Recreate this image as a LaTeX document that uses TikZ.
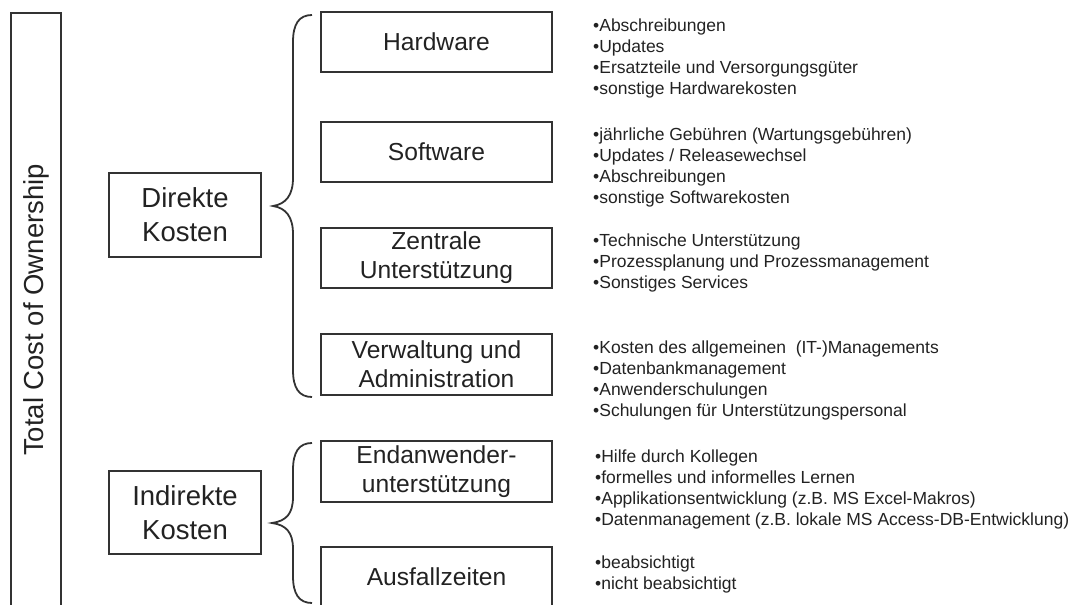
\documentclass[tikz,border=0pt]{standalone}
\usepackage{fontspec}
\setmainfont{Liberation Sans}
\definecolor{ln}{HTML}{333333}
\definecolor{tx}{HTML}{222222}
\tikzset{
  box/.style={draw=ln, line width=1.8pt, text=tx, inner sep=0pt, align=center,
              minimum width=231pt, minimum height=60pt,
              font=\fontsize{24.6}{29}\selectfont},
  bigbox/.style={draw=ln, line width=1.8pt, text=tx, inner sep=0pt, align=center,
              minimum width=152pt, minimum height=84pt,
              font=\fontsize{27.5}{34}\selectfont},
  itemlist/.style={anchor=north west, inner sep=0pt, align=left, text=tx,
              font=\fontsize{17.5}{21}\selectfont},
  bracepath/.style={draw=ln, line width=1.8pt}
}
\begin{document}
\begin{tikzpicture}[x=1pt,y=-1pt]
\useasboundingbox (0,0) rectangle (1077,605);
\clip (0,0) rectangle (1077,605);

% total cost of ownership
\node[draw=ln, line width=1.8pt, text=tx, rotate=90, minimum width=594pt, minimum height=50pt,
      inner sep=0pt, font=\fontsize{27.5}{34}\selectfont] (tco) at (36,310) {Total Cost of Ownership};

% first level
\node[bigbox] (direkt) at (185,215) {Direkte\\Kosten};
\node[bigbox, minimum height=83pt] (indirekt) at (185,512.5) {Indirekte\\Kosten};

% second level
\node[box] (hw) at (436.5,42) {Hardware};
\node[box] (sw) at (436.5,152) {Software};
\node[box] (zu) at (436.5,258) {Zentrale\\Unterstützung};
\node[box, minimum height=61pt] (va) at (436.5,364.5) {Verwaltung und\\Administration};
\node[box, minimum height=61pt] (eu) at (436.5,471.5) {Endanwender-\\unterstützung};
\node[box] (af) at (436.5,577) {Ausfallzeiten};

% braces
\coordinate (b1top) at (312,15);
\coordinate (b1tip) at (273,206);
\coordinate (b1bot) at (312,397);
\draw[bracepath] (b1top) .. controls (299,15) and (293,24) .. (293,42) -- (293,178)
  .. controls (293,195) and (286,204) .. (b1tip)
  .. controls (286,208) and (293,217) .. (293,234) -- (293,370)
  .. controls (293,388) and (299,397) .. (b1bot);

\coordinate (b2top) at (312,443);
\coordinate (b2tip) at (272,523);
\coordinate (b2bot) at (312,603);
\draw[bracepath] (b2top) .. controls (299,443) and (293,452) .. (293,470) -- (293,497)
  .. controls (293,514) and (286,521) .. (b2tip)
  .. controls (286,525) and (293,532) .. (293,549) -- (293,576)
  .. controls (293,594) and (299,603) .. (b2bot);

% item lists
\node[itemlist] (hwl) at (593,16.3) {\strut•Abschreibungen\\•Updates\\•Ersatzteile und Versorgungsgüter\\•sonstige Hardwarekosten};
\node[itemlist] (swl) at (593,125.3) {\strut•jährliche Gebühren (Wartungsgebühren)\\•Updates / Releasewechsel\\•Abschreibungen\\•sonstige Softwarekosten};
\node[itemlist] (zul) at (593,231.3) {\strut•Technische Unterstützung\\•Prozessplanung und Prozessmanagement\\•Sonstiges Services};
\node[itemlist] (val) at (593,338.3) {\strut•Kosten des allgemeinen\ \ (IT-)Managements\\•Datenbankmanagement\\•Anwenderschulungen\\•Schulungen für Unterstützungspersonal};
\node[itemlist] (eul) at (595,447.3) {\strut•Hilfe durch Kollegen\\•formelles und informelles Lernen\\•Applikationsentwicklung (z.B. MS Excel-Makros)\\•Datenmanagement (z.B. lokale MS Access-DB-Entwicklung)};
\node[itemlist] (afl) at (595,553.3) {\strut•beabsichtigt\\•nicht beabsichtigt};
\end{tikzpicture}
\end{document}
